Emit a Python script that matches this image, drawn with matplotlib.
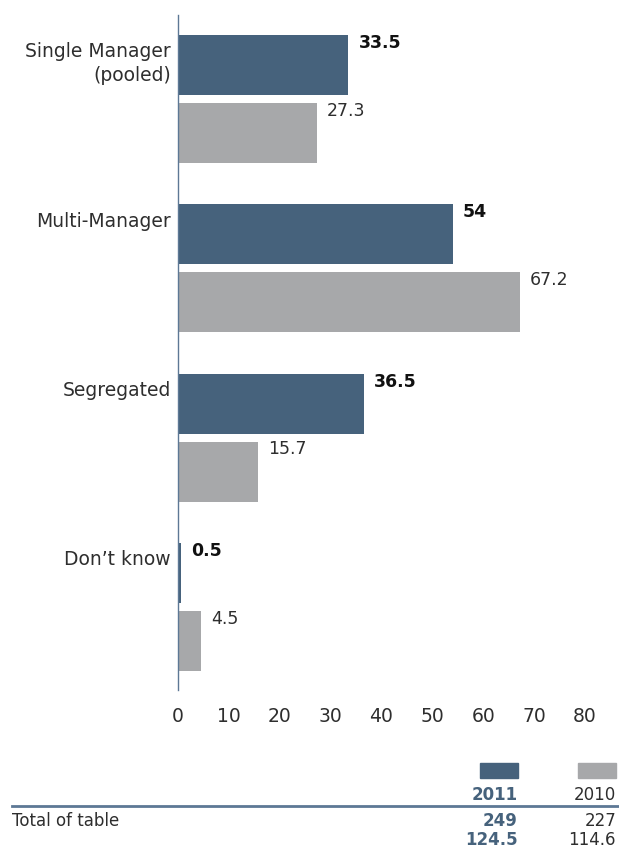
import matplotlib
import matplotlib.pyplot as plt

matplotlib.use("agg")

plt.rcParams["font.family"] = ["DejaVu Sans"]

categories = ["Single Manager\n(pooled)", "Multi-Manager", "Segregated", "Don\u2019t know"]
values_2011 = [33.5, 54, 36.5, 0.5]
values_2010 = [27.3, 67.2, 15.7, 4.5]
value_labels_2011 = ["33.5", "54", "36.5", "0.5"]
value_labels_2010 = ["27.3", "67.2", "15.7", "4.5"]
x_ticks = [0, 10, 20, 30, 40, 50, 60, 70, 80]

legend_years = ["2011", "2010"]
total_row_label = "Total of table"
totals_2011 = ["249", "124.5"]
totals_2010 = ["227", "114.6"]

COL_2011 = "#46627c"
COL_2010 = "#a7a8aa"
AXIS_COL = "#5d7895"
TEXT_COL = "#2e2e2e"

W, H = 619, 850
fig = plt.figure(figsize=(W / 100, H / 100), dpi=100)


def fx(px):
    return px / W


def fy(py):
    return 1 - py / H


ax = fig.add_axes([fx(178), fy(690), fx(585) - fx(178), fy(15) - fy(690)])

group_step = 2.825
offset_2010 = 1.133
pos_2011 = [i * group_step for i in range(len(categories))]
pos_2010 = [p + offset_2010 for p in pos_2011]

ax.barh(pos_2011, values_2011, height=1.0, color=COL_2011)
ax.barh(pos_2010, values_2010, height=1.0, color=COL_2010)

for p, v, lab in zip(pos_2011, values_2011, value_labels_2011):
    ax.text(v + 2.0, p - 0.52, lab, ha="left", va="top", fontsize=12.5,
            fontweight="bold", color="#111111")
for p, v, lab in zip(pos_2010, values_2010, value_labels_2010):
    ax.text(v + 2.0, p - 0.52, lab, ha="left", va="top", fontsize=12.5,
            color=TEXT_COL)

for p, lab in zip(pos_2011, categories):
    ax.text(-1.4, p - 0.38, lab, ha="right", va="top", fontsize=13.5,
            color=TEXT_COL, linespacing=1.3)

ax.set_xlim(0, 80)
ax.set_ylim(10.425, -0.833)
ax.set_xticks(x_ticks)
ax.set_xticklabels([str(t) for t in x_ticks], fontsize=13.5, color=TEXT_COL)
ax.tick_params(axis="x", length=0, pad=12)
ax.set_yticks([])
for s in ["top", "right", "bottom"]:
    ax.spines[s].set_visible(False)
ax.spines["left"].set_color(AXIS_COL)
ax.spines["left"].set_linewidth(1.0)

# legend / totals table below the chart
fig.patches.append(plt.Rectangle((fx(480), fy(778)), fx(518) - fx(480), fy(763) - fy(778),
                                 transform=fig.transFigure, color=COL_2011))
fig.patches.append(plt.Rectangle((fx(578), fy(778)), fx(616) - fx(578), fy(763) - fy(778),
                                 transform=fig.transFigure, color=COL_2010))
fig.text(fx(518), fy(795), legend_years[0], ha="right", va="center", fontsize=12,
         fontweight="bold", color=COL_2011)
fig.text(fx(616), fy(795), legend_years[1], ha="right", va="center", fontsize=12,
         color=TEXT_COL)
fig.add_artist(plt.Line2D([fx(12), fx(619)], [fy(806), fy(806)], color=AXIS_COL,
                          lw=2.0, transform=fig.transFigure))
fig.text(fx(12), fy(821), total_row_label, ha="left", va="center", fontsize=12,
         color=TEXT_COL)
for i, (a, b) in enumerate(zip(totals_2011, totals_2010)):
    yy = fy(821 + i * 19)
    fig.text(fx(518), yy, a, ha="right", va="center", fontsize=12,
             fontweight="bold", color=COL_2011)
    fig.text(fx(616), yy, b, ha="right", va="center", fontsize=12, color=TEXT_COL)

fig.savefig("out.png", dpi=100)
